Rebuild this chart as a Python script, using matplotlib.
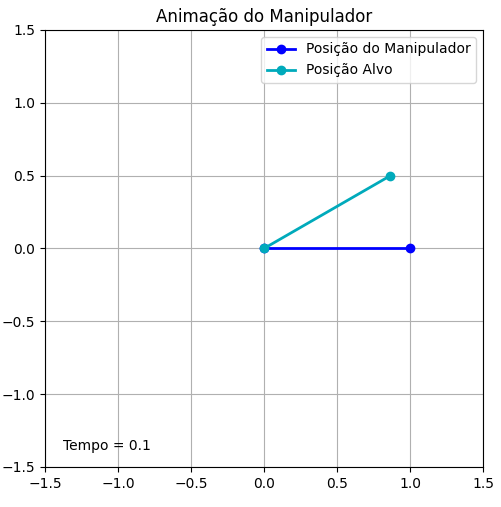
import matplotlib
matplotlib.use("Agg")
from matplotlib import pyplot as plt

# manipulator arm (base -> tip) and target arm
manip_x = [0.0, 1.0]
manip_y = [0.0, 0.0]
alvo_x = [0.0, 0.866]
alvo_y = [0.0, 0.5]
tempo = 0.1

fig = plt.figure(figsize=(5.02, 5.07), dpi=100)
ax = fig.add_axes([0.0896, 0.0789, 0.8725, 0.862])

ax.plot(manip_x, manip_y, "o-", color="#0000ff", lw=2, ms=6, label="Posição do Manipulador")
ax.plot(alvo_x, alvo_y, "o-", color="#00aabb", lw=2, ms=6, label="Posição Alvo")

ax.set_xlim(-1.5, 1.5)
ax.set_ylim(-1.5, 1.5)
ax.set_xticks([-1.5, -1.0, -0.5, 0.0, 0.5, 1.0, 1.5])
ax.set_yticks([-1.5, -1.0, -0.5, 0.0, 0.5, 1.0, 1.5])
ax.grid(True, color="#b0b0b0")
ax.set_title("Animação do Manipulador")
ax.text(0.041, 0.039, "Tempo = %.1f" % tempo, transform=ax.transAxes)
ax.legend(loc="upper right")

fig.savefig("out.png", dpi=100)
